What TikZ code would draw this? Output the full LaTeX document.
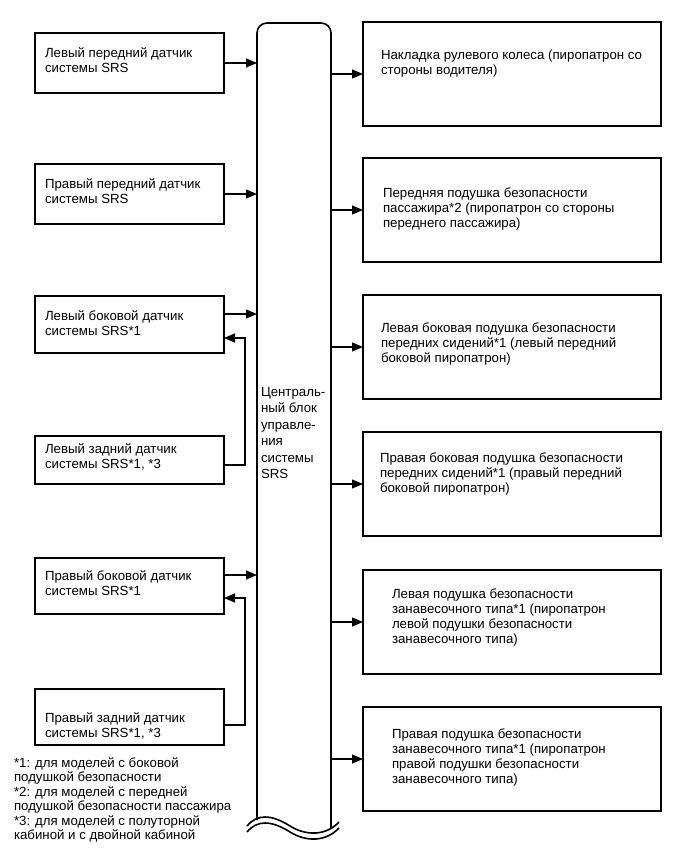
\documentclass[tikz,border=0pt]{standalone}
\usepackage{fontspec}
\setmainfont{Liberation Sans}
\usetikzlibrary{arrows.meta}
\begin{document}
\begin{tikzpicture}[x=1bp,y=-1bp,
  box/.style={draw, line width=1.8bp, inner sep=0, outer sep=0},
  lbox/.style={box, minimum width=189bp},
  rbox/.style={box, minimum width=298bp, minimum height=104bp},
  txt/.style={anchor=north west, inner sep=0, outer sep=0, align=left,
    font=\fontsize{13.3}{15}\selectfont, yshift=-2.5bp},
  ctxt/.style={txt, font=\fontsize{13.3}{16.5}\selectfont},
  ftxt/.style={txt, font=\fontsize{13.3}{14.5}\selectfont},
  conn/.style={line width=1.1bp},
  arr/.style={conn, -{Triangle[length=11bp,width=9bp]}},
  barline/.style={line width=1.6bp}]
\useasboundingbox (0,0) rectangle (691,855);

% central unit
\node[minimum width=74bp, minimum height=805bp, inner sep=0, outer sep=0] (cu) at (294,425.5) {};
\draw[barline, rounded corners=10bp] ([yshift=8bp]cu.south west) -- (cu.north west) -- (cu.north east) -- (cu.south east);
\draw[barline] (247,826) .. controls (257,814) and (271,814) .. (290,826) .. controls (306,836) and (326,836) .. (339,822);
\draw[barline] (247,832) .. controls (257,820) and (271,820) .. (290,832) .. controls (306,842) and (326,842) .. (339,828);
\node[ctxt] (cut) at (261,382.5) {\strut Централь-\\ный блок\\управле-\\ния\\системы\\SRS};

% left boxes
\node[lbox, minimum height=60bp] (L1) at (129.5,63) {};
\node[lbox, minimum height=60bp] (L2) at (129.5,194) {};
\node[lbox, minimum height=57bp] (L3) at (129.5,324.5) {};
\node[lbox, minimum height=48bp] (L4) at (129.5,460) {};
\node[lbox, minimum height=56bp] (L5) at (129.5,586) {};
\node[lbox, minimum height=56bp] (L6) at (129.5,717) {};

\node[txt] (t1) at (45,44.5) {\strut Левый передний датчик\\системы SRS};
\node[txt] (t2) at (45,175.5) {\strut Правый передний датчик\\системы SRS};
\node[txt] (t3) at (45,307.5) {\strut Левый боковой датчик\\системы SRS*1};
\node[txt] (t4) at (45,440.5) {\strut Левый задний датчик\\системы SRS*1, *3};
\node[txt] (t5) at (45,567.5) {\strut Правый боковой датчик\\системы SRS*1};
\node[txt] (t6) at (45,709.5) {\strut Правый задний датчик\\системы SRS*1, *3};

% right boxes
\node[rbox] (R1) at (512,74) {};
\node[rbox] (R2) at (512,210) {};
\node[rbox] (R3) at (512,347) {};
\node[rbox] (R4) at (512,484) {};
\node[rbox] (R5) at (512,622) {};
\node[rbox] (R6) at (512,759) {};

\node[txt] (u1) at (381,46.5) {\strut Накладка рулевого колеса (пиропатрон со\\стороны водителя)};
\node[txt] (u2) at (383,184.5) {\strut Передняя подушка безопасности\\пассажира*2 (пиропатрон со стороны\\переднего пассажира)};
\node[txt] (u3) at (381,319.5) {\strut Левая боковая подушка безопасности\\передних сидений*1 (левый передний\\боковой пиропатрон)};
\node[txt] (u4) at (380,449.5) {\strut Правая боковая подушка безопасности\\передних сидений*1 (правый передний\\боковой пиропатрон)};
\node[txt] (u5) at (392,585.5) {\strut Левая подушка безопасности\\занавесочного типа*1 (пиропатрон\\левой подушки безопасности\\занавесочного типа)};
\node[txt] (u6) at (392,725.5) {\strut Правая подушка безопасности\\занавесочного типа*1 (пиропатрон\\правой подушки безопасности\\занавесочного типа)};

% footnotes
\node[ftxt] (fn) at (14,754.85) {\strut *1: для моделей с боковой\\подушкой безопасности\\*2: для моделей с передней\\подушкой безопасности пассажира\\*3: для моделей с полуторной\\кабиной и с двойной кабиной};

% connectors left -> central unit
\draw[arr] (L1.east) -- (L1.east -| cu.west);
\draw[arr] (L2.east) -- (L2.east -| cu.west);
\draw[arr] ([yshift=10.5bp]L3.east) -- ([yshift=10.5bp]L3.east -| cu.west);
\draw[arr] ([yshift=11bp]L5.east) -- ([yshift=11bp]L5.east -| cu.west);
% rear sensors -> side sensors
\draw[arr] ([yshift=-5bp]L4.east) -- ++(21,0) |- ([yshift=-13.5bp]L3.east);
\draw[arr] ([yshift=-8bp]L6.east) -- ++(21,0) |- ([yshift=-12bp]L5.east);

% central unit -> right boxes
\foreach \r in {R1,R2,R3,R4,R5,R6}
  \draw[arr] (\r.west -| cu.east) -- (\r.west);
\end{tikzpicture}
\end{document}
